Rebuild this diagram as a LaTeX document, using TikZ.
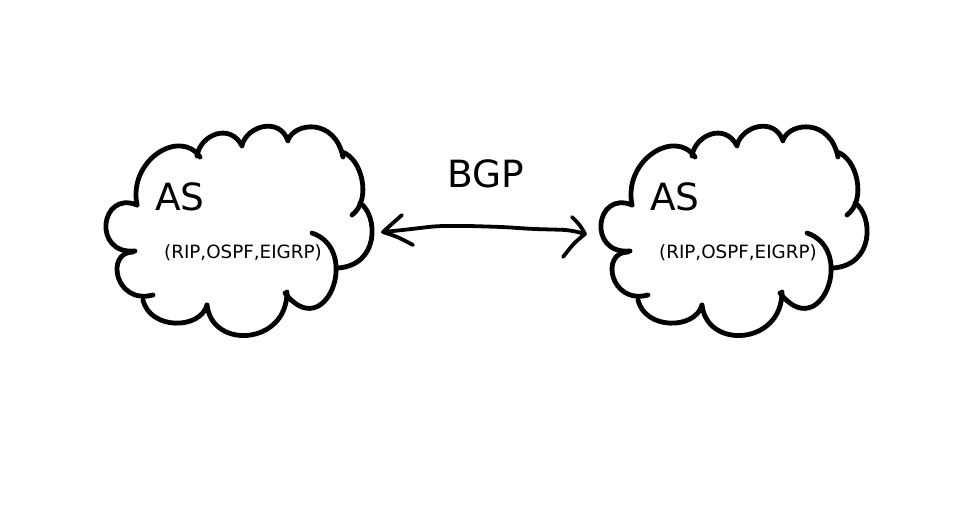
\documentclass[tikz,border=0pt]{standalone}
\usepackage{fontspec}
\setmainfont{DejaVu Sans}
\newcommand\drawmycloud{%
\draw[cloudline] (137,205) .. controls (128,160) and (180,128) .. (200,157);
\draw[cloudline] (197,156) .. controls (200,135) and (230,122) .. (242,146);
\draw[cloudline] (242,145) .. controls (248,125) and (280,117) .. (288,141);
\draw[cloudline] (288,140) .. controls (295,122) and (335,118) .. (343,157);
\draw[cloudline] (342,152) .. controls (362,158) and (372,200) .. (352,215);
\draw[cloudline] (360,203) .. controls (378,215) and (380,265) .. (338,268);
\draw[cloudline] (312,233) .. controls (362,250) and (325,345) .. (285,293);
\draw[cloudline] (287,292) .. controls (287,345) and (212,350) .. (207,305);
\draw[cloudline] (207,305) .. controls (200,330) and (150,330) .. (143,300);
\draw[cloudline] (133,252) .. controls (105,252) and (115,305) .. (153,295);
\draw[cloudline] (137,205) .. controls (100,190) and (92,255) .. (135,251);
}
\begin{document}
\begin{tikzpicture}[x=1pt,y=-1pt,
  cloudline/.style={line width=4.8pt,line cap=round,line join=round},
  arrowline/.style={line width=3.8pt,line cap=round,line join=round},
  bigtext/.style={inner sep=0pt,font=\fontsize{37.5}{40}\selectfont},
  smalltext/.style={inner sep=0pt,font=\fontsize{18.3}{20}\selectfont}]
\useasboundingbox[fill=white] (0,0) rectangle (974,508);
% clouds
\drawmycloud
\begin{scope}[shift={(495,0)}]
\drawmycloud
\end{scope}
% texts
\node[bigtext,anchor=base west] (as1) at (155,210) {AS};
\node[smalltext,anchor=base west] (proto1) at (164,258.7) {(RIP,OSPF,EIGRP)};
\node[bigtext,anchor=base west] (as2) at (650,210) {AS};
\node[smalltext,anchor=base west] (proto2) at (659,258.7) {(RIP,OSPF,EIGRP)};
\node[bigtext,anchor=base west] (bgp) at (447,187.3) {BGP};
% arrow
\coordinate (tipL) at (383,232);
\coordinate (tipR) at (585,234);
\draw[arrowline,rounded corners=8pt] (tipL) -- (403,230) -- (420,228) -- (437,226) -- (470,226) -- (503,227) -- (533,229) -- (570,230) -- (tipR);
\draw[arrowline] (402,215) .. controls (394,222) .. (tipL) .. controls (398,237) .. (413,245);
\draw[arrowline] (572,217) .. controls (580,225) .. (tipR) .. controls (574,243) .. (563,257);
\end{tikzpicture}
\end{document}
